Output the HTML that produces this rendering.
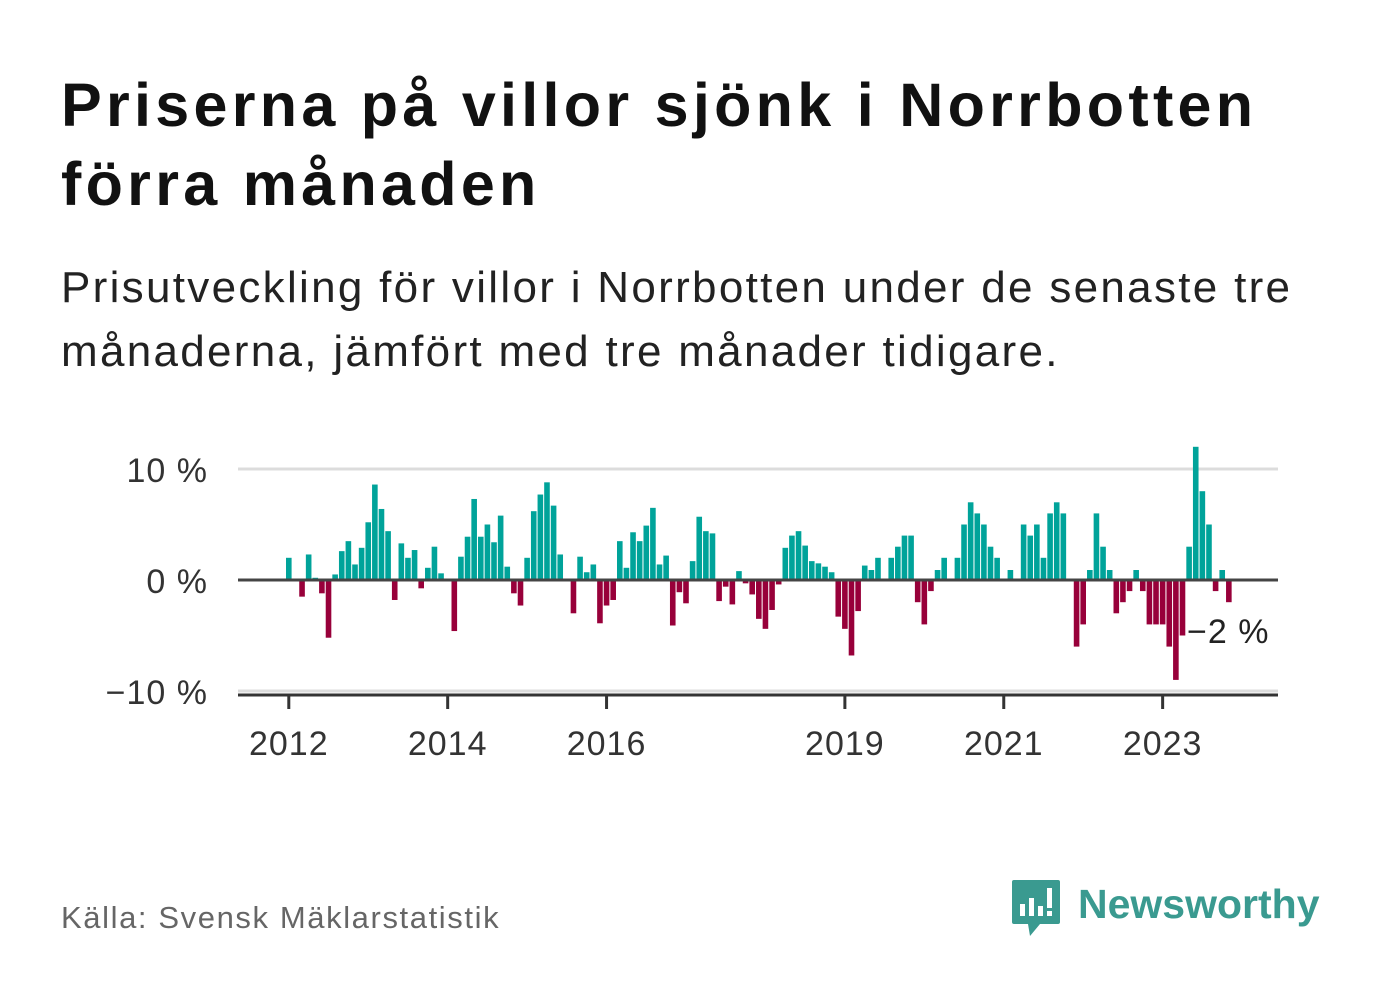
<!DOCTYPE html>
<html><head><meta charset="utf-8"><style>
body{margin:0;width:1382px;height:999px;background:#fff;font-family:"Liberation Sans","DejaVu Sans",sans-serif;position:relative;overflow:hidden}
h1{position:absolute;left:61px;top:66px;margin:0;font-size:61px;line-height:79px;font-weight:bold;color:#111;letter-spacing:4.3px;white-space:nowrap}
.sub{position:absolute;left:61px;top:256px;margin:0;font-size:44px;line-height:64px;color:#222;letter-spacing:2.3px;white-space:nowrap}
.src{position:absolute;left:61px;top:900px;font-size:31px;color:#666;letter-spacing:1.6px}
.logo{position:absolute;left:1010px;top:878px}
.logo span{position:absolute;left:68px;top:3px;font-size:41px;font-weight:bold;color:#3a9a90;white-space:nowrap}
</style></head><body>
<h1>Priserna på villor sjönk i Norrbotten<br>förra månaden</h1>
<p class="sub">Prisutveckling för villor i Norrbotten under de senaste tre<br>månaderna, jämfört med tre månader tidigare.</p>
<svg id="chart" style="position:absolute;left:0;top:0" width="1382" height="999"></svg>
<div class="src">Källa: Svensk Mäklarstatistik</div>
<div class="logo">
<svg width="52" height="60"><path d="M4 2h44a2 2 0 0 1 2 2v40a2 2 0 0 1-2 2H30l-10 12-2-12H4a2 2 0 0 1-2-2V4a2 2 0 0 1 2-2z" fill="#3a9a90"/><rect x="10" y="26" width="5" height="12" fill="#fff"/><rect x="19" y="20" width="5" height="18" fill="#fff"/><rect x="28" y="28" width="5" height="10" fill="#fff"/><rect x="37" y="10" width="5" height="20" fill="#fff"/><rect x="37" y="33" width="5" height="5" fill="#fff"/></svg>
<span>Newsworthy</span></div>
<script>
const values=[2.0,null,-1.5,2.3,0.2,-1.2,-5.2,0.5,2.6,3.5,1.4,2.9,5.2,8.6,6.4,4.4,-1.8,3.3,2.0,2.7,-0.75,1.1,3.0,0.6,
null,-4.6,2.1,3.9,7.3,3.9,5.0,3.4,5.8,1.2,-1.2,-2.3,2.0,6.2,7.7,8.8,6.7,2.3,null,-3.0,2.1,0.7,1.4,-3.9,
-2.3,-1.8,3.5,1.1,4.3,3.5,4.9,6.5,1.4,2.2,-4.1,-1.1,-2.1,1.7,5.7,4.4,4.2,-1.9,-0.6,-2.2,0.8,-0.3,-1.3,-3.5,
-4.4,-2.7,-0.4,2.9,4.0,4.4,3.1,1.7,1.5,1.2,0.7,-3.3,-4.4,-6.8,-2.8,1.3,0.9,2.0,null,2.0,3.0,4.0,4.0,-2.0,
-4.0,-1.0,0.9,2.0,null,2.0,5.0,7.0,6.0,5.0,3.0,2.0,null,0.9,null,5.0,4.0,5.0,2.0,6.0,7.0,6.0,null,-6.0,
-4.0,0.9,6.0,3.0,0.9,-3.0,-2.0,-1.0,0.9,-1.0,-4.0,-4.0,-4.0,-6.0,-9.0,-5.0,3.0,12.0,8.0,5.0,-1.0,0.9,-2.0];
const yTicks=[10,0,-10];
const yTickLabels=["10 %","0 %","−10 %"];
const xTickYears=[2012,2014,2016,2019,2021,2023];
const startYear=2012;
const lastLabel="−2 %";
const NS="http://www.w3.org/2000/svg";
const svg=document.getElementById('chart');
const step=6.62, x0=286, bw=5.6;
function xs(i){return x0+i*step;}
function ys(v){return 580-v*11.1;}
function xYear(y){return xs((y-startYear)*12)+bw/2;}
function mk(t,a){const e=document.createElementNS(NS,t);for(const k in a)e.setAttribute(k,a[k]);svg.appendChild(e);return e;}
yTicks.forEach((t,i)=>{
  if(t!==0){const g=mk('line',{x1:238,x2:1278,y1:ys(t),y2:ys(t),stroke:'#dcdcdc','stroke-width':3});
  
  }
  const tx=mk('text',{x:208,y:ys(t)+13,'text-anchor':'end','font-size':34,fill:'#333','font-family':'Liberation Sans, sans-serif','letter-spacing':1});
  tx.textContent=yTickLabels[i];
  
  
});
values.forEach((v,i)=>{
  if(v===null)return;
  const y=v>=0?ys(v):ys(0);
  const r=mk('rect',{x:xs(i),y:y,width:bw,height:Math.abs(ys(v)-ys(0)),fill:v>=0?'#00a39a':'#98003a'});
  
  
});
const z=mk('line',{x1:238,x2:1278,y1:ys(0),y2:ys(0),stroke:'#444','stroke-width':3});


const ax=mk('line',{x1:238,x2:1278,y1:695,y2:695,stroke:'#333','stroke-width':3});


xTickYears.forEach(y=>{
  const x=xYear(y);
  const t=mk('line',{x1:x,x2:x,y1:695,y2:709,stroke:'#333','stroke-width':3});
  
  
  const l=mk('text',{x:x,y:755,'text-anchor':'middle','font-size':34,fill:'#333','font-family':'Liberation Sans, sans-serif','letter-spacing':1});
  l.textContent=y;
  
  
});
const ll=mk('text',{x:1187,y:643,'font-size':34,fill:'#222','font-family':'Liberation Sans, sans-serif','letter-spacing':1});
ll.textContent=lastLabel;


</script>
</body></html>
